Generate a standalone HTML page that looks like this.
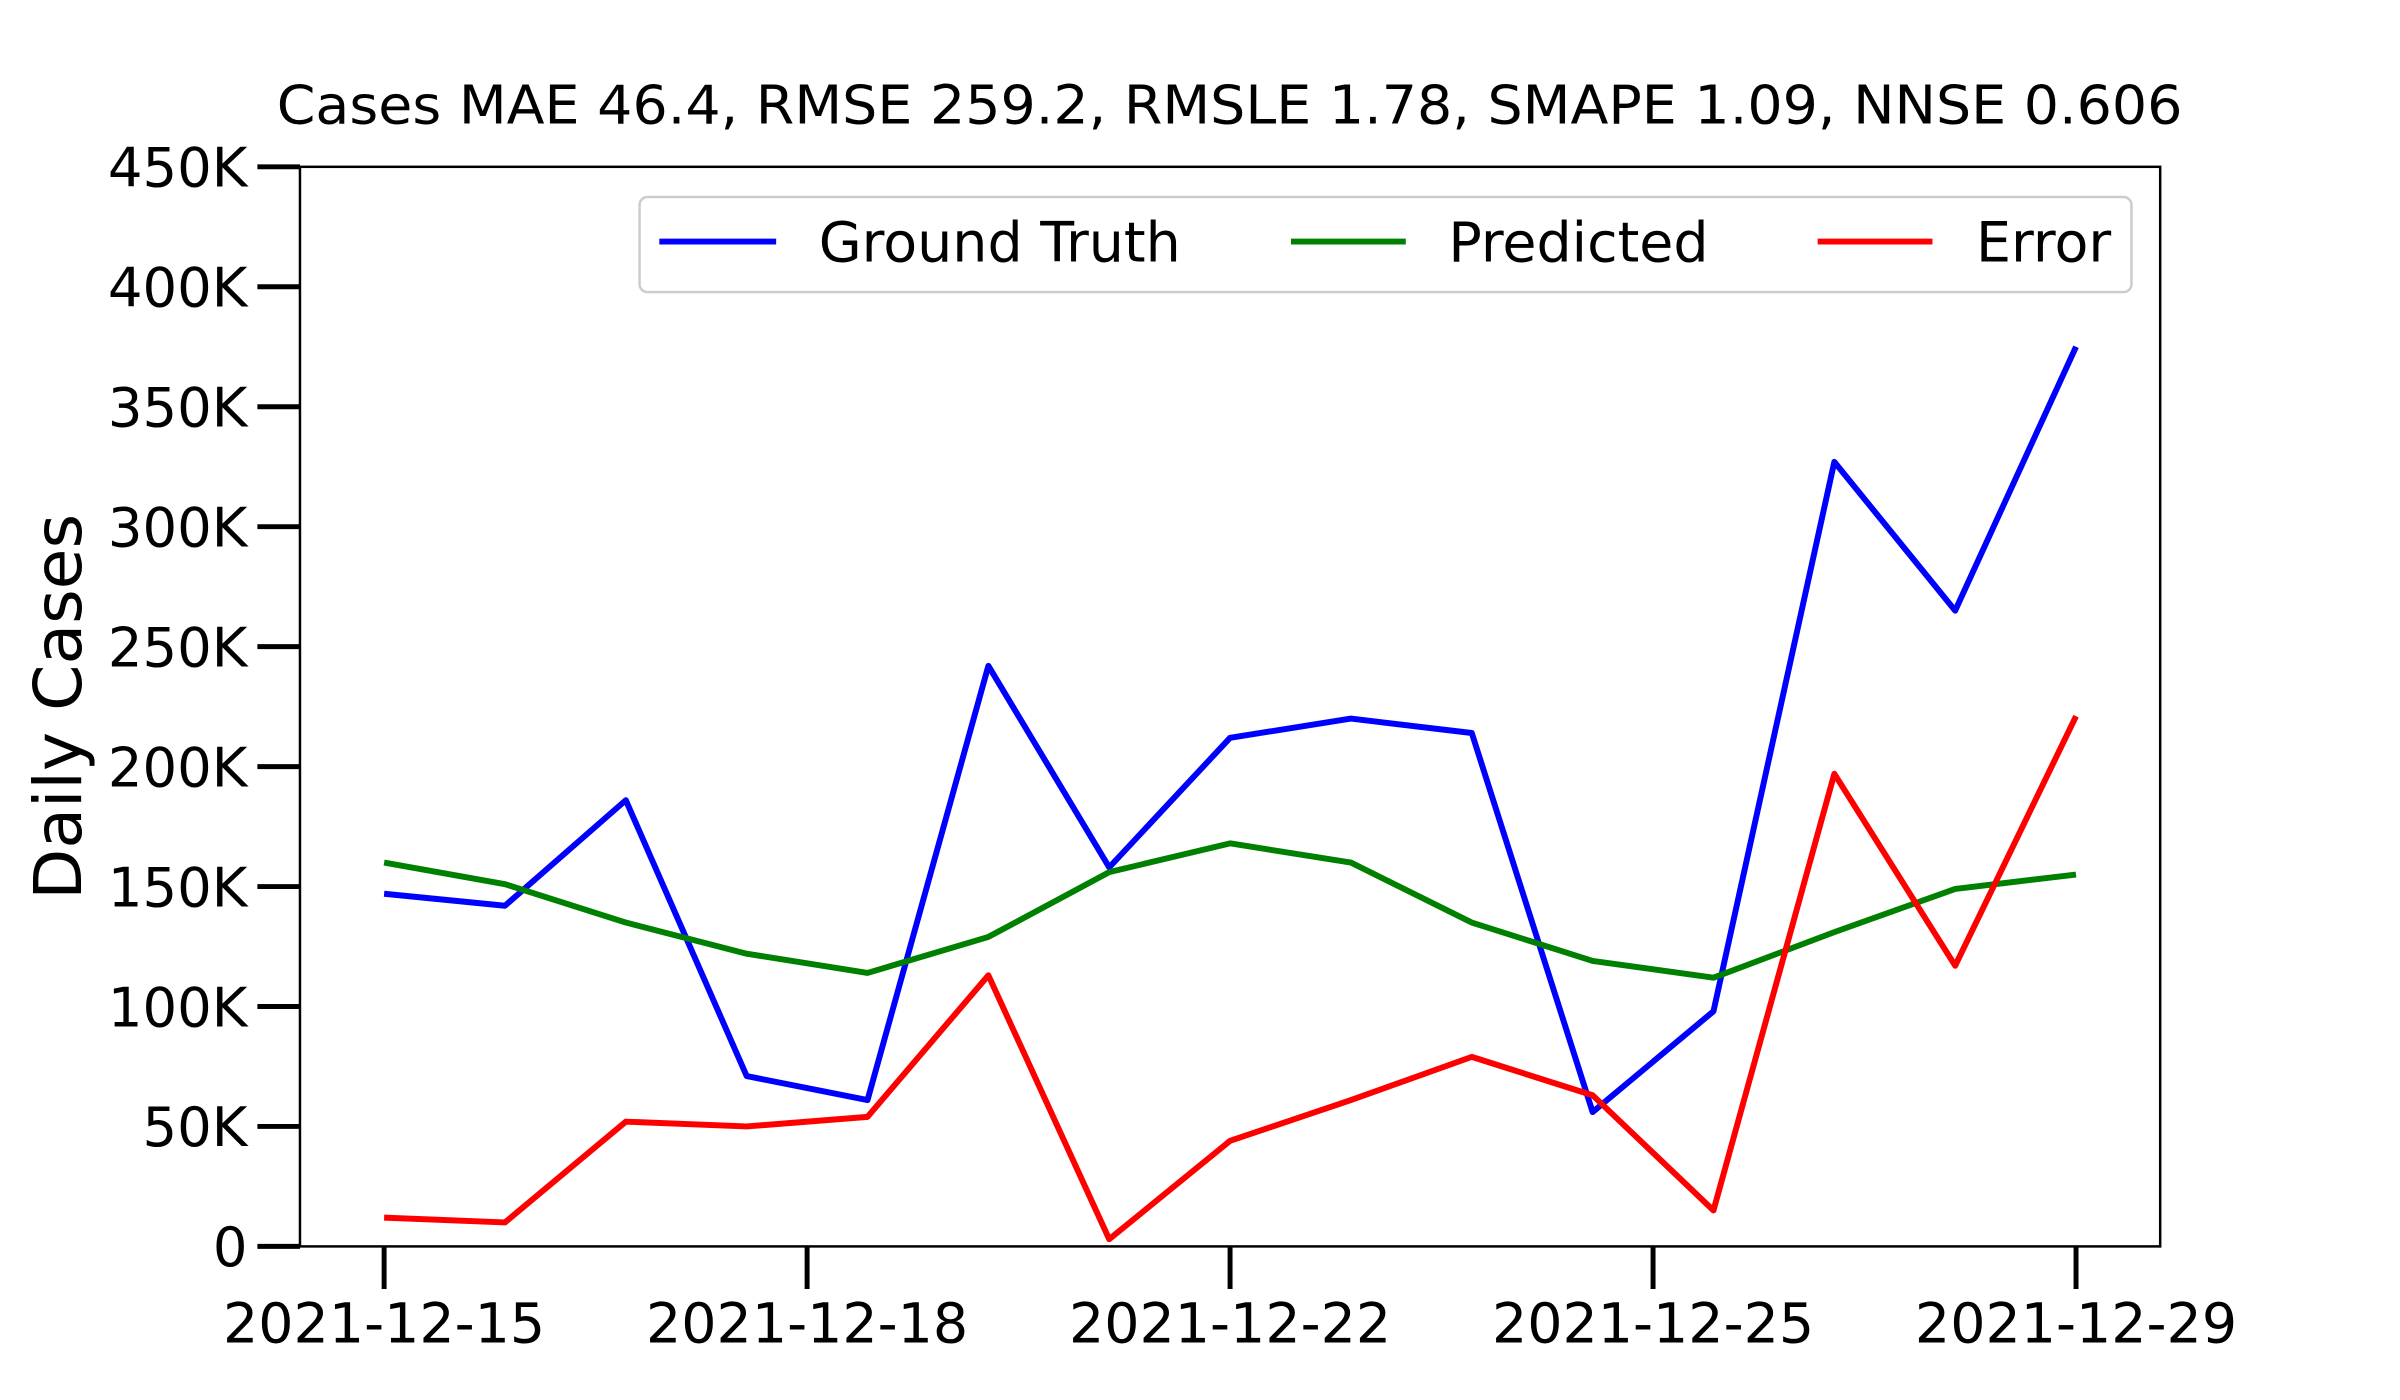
<!DOCTYPE html>
<html><head><meta charset="utf-8"><style>html,body{margin:0;padding:0;background:#fff}svg{display:block}text{font-family:"DejaVu Sans","Liberation Sans",sans-serif;fill:#000}</style></head>
<body>
<svg id="chart" width="2400" height="1400" viewBox="0 0 2400 1400" xmlns="http://www.w3.org/2000/svg">
<g transform="scale(0.99)">
<text x="1242" y="125" font-size="54" text-anchor="middle" textLength="1925" lengthAdjust="spacingAndGlyphs">Cases MAE 46.4, RMSE 259.2, RMSLE 1.78, SMAPE 1.09, NNSE 0.606</text>
<text x="0" y="0" font-size="67" text-anchor="middle" transform="translate(82,714) rotate(-90)">Daily Cases</text>
<g id="grid"></g>
<g id="series"></g>
<rect x="303" y="168.5" width="1879" height="1090.5" fill="none" stroke="#000" stroke-width="2.5"/>
<g>
<rect x="646" y="199" width="1507" height="96" rx="8" fill="#fff" fill-opacity="0.8" stroke="#ccc" stroke-width="2.5"/>
<line x1="666" y1="244" x2="784" y2="244" stroke="#0000ff" stroke-width="6"/>
<text x="827" y="264" font-size="56">Ground Truth</text>
<line x1="1304" y1="244" x2="1420" y2="244" stroke="#008000" stroke-width="6"/>
<text x="1463" y="264" font-size="56">Predicted</text>
<line x1="1836" y1="244" x2="1952" y2="244" stroke="#ff0000" stroke-width="6"/>
<text x="1996" y="264" font-size="56">Error</text>
</g>
</g>
</svg>
<script>
const categories = ["2021-12-15","2021-12-16","2021-12-17","2021-12-18","2021-12-19","2021-12-20","2021-12-21","2021-12-22","2021-12-23","2021-12-24","2021-12-25","2021-12-26","2021-12-27","2021-12-28","2021-12-29"];
const groundTruth = [147,142,186,71,61,242,158,212,220,214,56,98,327,265,375];
const predicted = [160,151,135,122,114,129,156,168,160,135,119,112,131,149,155];
const errorVals = [12,10,52,50,54,113,3,44,61,79,63,15,197,117,221];
const yTicks = [0,50,100,150,200,250,300,350,400,450];
const yTickLabels = ["0","50K","100K","150K","200K","250K","300K","350K","400K","450K"];
const xTickIdx = [0,3.5,7,10.5,14];
const xTickLabels = ["2021-12-15","2021-12-18","2021-12-22","2021-12-25","2021-12-29"];

const NS="http://www.w3.org/2000/svg";
const X0=388, X1=2097, Y0=1259, Y1=168.5;
function xs(i){return X0+(X1-X0)*i/(categories.length-1);}
function ys(v){return Y0-(Y0-Y1)*v/450;}
const g=document.getElementById('grid'), s=document.getElementById('series');
function mk(tag,attrs,parent){const e=document.createElementNS(NS,tag);for(const k in attrs)e.setAttribute(k,attrs[k]);parent.appendChild(e);return e;}
yTicks.forEach((v,i)=>{
  const t=mk('line',{x1:260,x2:303,y1:ys(v),y2:ys(v),stroke:'#000','stroke-width':5},g);
  
  
  const l=mk('text',{x:250,y:ys(v)+20,'font-size':55,'text-anchor':'end'},g);
  
  
  l.textContent=yTickLabels[i];
});
xTickIdx.forEach((v,i)=>{
  const t=mk('line',{x1:xs(v),x2:xs(v),y1:1259,y2:1302,stroke:'#000','stroke-width':5},g);
  
  
  const l=mk('text',{x:xs(v),y:1356,'font-size':56,'text-anchor':'middle'},g);
  
  
  l.textContent=xTickLabels[i];
});
function line(data,color,name){
  const p=mk('polyline',{points:data.map((v,i)=>xs(i)+','+ys(v)).join(' '),fill:'none',stroke:color,'stroke-width':6,'stroke-linejoin':'round'},s);
  
  
}
line(groundTruth,'#0000ff','ground-truth-line');
line(predicted,'#008000','predicted-line');
line(errorVals,'#ff0000','error-line');
</script>
</body></html>
